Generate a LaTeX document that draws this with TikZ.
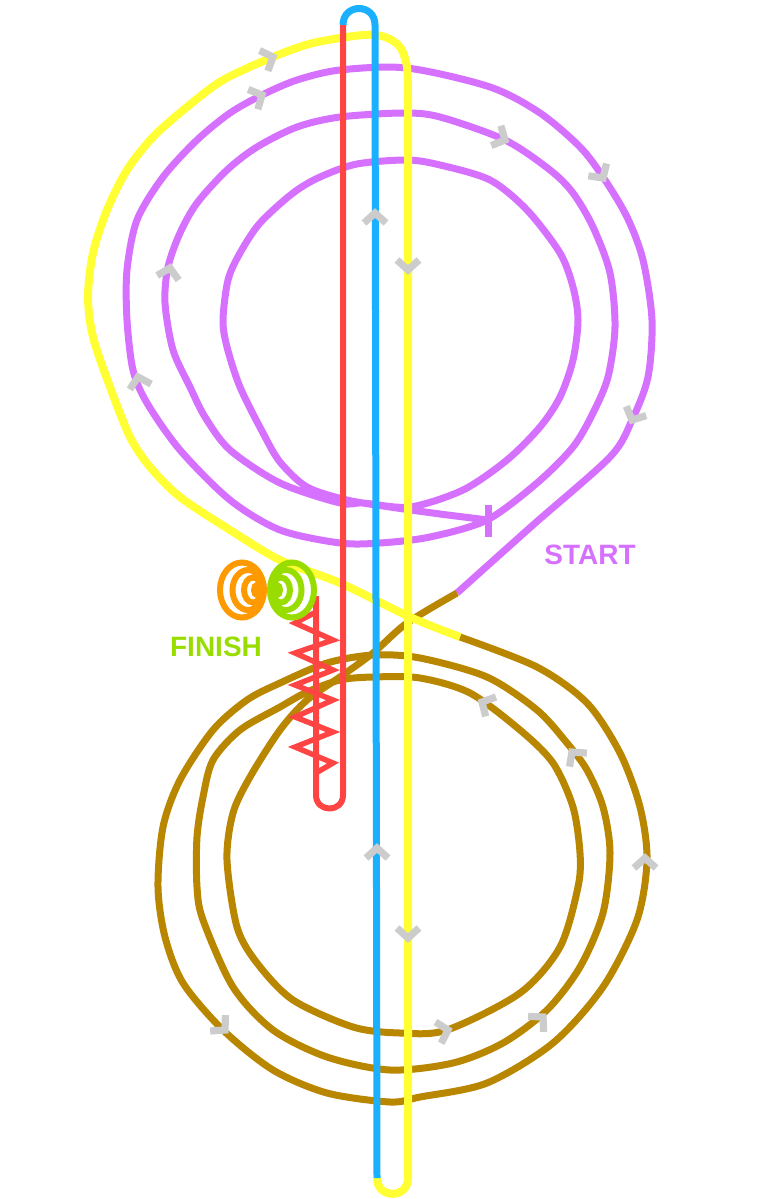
\documentclass[tikz,border=0pt]{standalone}
\usepackage{fontspec}
\setmainfont{Liberation Sans}
\definecolor{trackpurple}{RGB}{214,112,255}
\definecolor{trackbrown}{RGB}{185,134,0}
\definecolor{trackyellow}{RGB}{255,255,51}
\definecolor{trackblue}{RGB}{26,176,255}
\definecolor{trackred}{RGB}{255,68,68}
\definecolor{finishgreen}{RGB}{153,221,0}
\definecolor{finishorange}{RGB}{255,153,0}
\definecolor{arrowgray}{RGB}{204,204,204}
\begin{document}
\begin{tikzpicture}[x=0.5pt,y=-0.5pt,
  track/.style={line width=3.5pt,line join=round},
  spiral/.style={line width=3pt},
  chev/.pic={\draw[line width=3.6pt,line join=miter,draw=arrowgray] (-5pt,5.5pt) -- (0pt,0pt) -- (-5pt,-5.5pt);},
  tag/.style={font=\fontsize{14}{16}\selectfont\bfseries}]
  \useasboundingbox (0,0) rectangle (768,1199);
  \draw[track,draw=trackpurple] plot[smooth,tension=0.5] coordinates {(488,520) (440,514) (390,507) (347,500) (307,487) (280,462) (263,433) (240,387) (227,347) (223,320) (228,280) (240,253) (260,223) (293,193) (320,177) (357,164) (407,160) (440,165) (490,180) (527,210) (560,253) (573,287) (578,320) (573,360) (560,397) (540,427) (507,460) (463,490) (410,507) (363,503) (340,503) (280,483) (230,450) (205,417) (190,387) (173,350) (165,303) (168,267) (180,233) (197,203) (227,170) (257,147) (297,127) (340,117) (403,113) (440,117) (505,140) (550,170) (573,193) (593,227) (610,273) (615,327) (608,377) (593,413) (573,447) (537,483) (487,520) (430,537) (380,543) (340,543) (280,530) (230,500) (180,450) (147,403) (133,370) (127,320) (127,270) (137,220) (163,177) (197,140) (230,113) (262,95) (297,80) (340,70) (407,68) (490,87) (540,113) (580,147) (603,177) (627,217) (643,260) (652,320) (648,377) (632,420) (610,457) (533,525) (457,593)};
  \draw[track,draw=trackpurple] (488,505) -- (488,537);
  \draw[track,draw=trackbrown] plot[smooth,tension=0.5] coordinates {(457,593) (407,623) (373,653) (340,677) (307,700) (280,730) (250,777) (233,813) (227,860) (237,927) (257,963) (293,1000) (353,1027) (400,1033) (447,1030) (520,993) (560,947) (578,887) (580,853) (573,807) (553,763) (520,730) (470,693) (420,678) (373,677) (340,680) (307,692) (280,707) (240,730) (213,760) (203,797) (197,837) (197,887) (203,920) (233,987) (273,1030) (327,1057) (390,1070) (453,1063) (503,1043) (547,1010) (580,967) (603,913) (610,853) (603,807) (587,770) (567,743) (537,710) (487,677) (420,658) (373,655) (327,663) (280,683) (247,700) (213,730) (180,780) (163,827) (158,887) (165,937) (183,983) (223,1030) (273,1070) (327,1093) (390,1102) (420,1097) (487,1083) (553,1043) (603,987) (637,920) (647,860) (640,807) (620,753) (587,703) (537,667) (460,637)};
  \draw[track,line width=4pt,draw=trackyellow] plot[smooth,tension=0.5] coordinates {(460,637) (410,617) (340,583) (280,560) (230,530) (180,497) (150,467) (130,437) (110,387) (93,337) (88,297) (93,253) (107,210) (127,170) (153,137) (187,107) (223,80) (273,57) (313,43) (363,35) (385,37) (400,47) (407,67) (408,100)} -- (408,1178) .. controls (408,1199) and (377,1199) .. (377,1178);
  \draw[track,draw=trackblue] (377,1178) -- (375,25) .. controls (375,3) and (343,3) .. (343,25);
  \draw[track,line width=3pt,draw=trackred] (343,25) -- (343,795) .. controls (343,813) and (316,813) .. (316,795) -- (316,596);
  \draw[spiral,line width=2.7pt,draw=trackred,line join=miter] (316,773) -- (333,763) -- (295,747) -- (333,732) -- (295,717) -- (333,700) -- (295,685) -- (333,670) -- (295,653) -- (333,640) -- (295,623) -- (316,612);
  \draw[spiral,draw=finishorange] (242,590) ellipse [x radius=22,y radius=27.5] (248,590) ellipse [x radius=15.5,y radius=20] (253,590) ellipse [x radius=9,y radius=12.5] (257,590) ellipse [x radius=3,y radius=5];
  \draw[spiral,draw=finishgreen] (292,590) ellipse [x radius=22,y radius=27.5] (286,590) ellipse [x radius=15.5,y radius=20] (281,590) ellipse [x radius=9,y radius=12.5] (277,590) ellipse [x radius=3,y radius=5];
  \pic[rotate=22] at (273,57) {chev};
  \pic[rotate=-90] at (408,270) {chev};
  \pic[rotate=-90] at (408,938) {chev};
  \pic[rotate=90] at (375,213) {chev};
  \pic[rotate=90] at (377,848) {chev};
  \pic[rotate=26] at (262,95) {chev};
  \pic[rotate=104] at (138,377) {chev};
  \pic[rotate=78] at (170,268) {chev};
  \pic[rotate=-26] at (505,140) {chev};
  \pic[rotate=-56] at (603,178) {chev};
  \pic[rotate=-115] at (632,420) {chev};
  \pic[rotate=-44] at (225,1030) {chev};
  \pic[rotate=15] at (448,1030) {chev};
  \pic[rotate=45] at (543,1017) {chev};
  \pic[rotate=90] at (645,858) {chev};
  \pic[rotate=128] at (572,752) {chev};
  \pic[rotate=152] at (482,702) {chev};
  \node[tag,text=trackpurple] (start) at (590,555) {START};
  \node[tag,text=finishgreen] (finish) at (216,647) {FINISH};
\end{tikzpicture}
\end{document}
